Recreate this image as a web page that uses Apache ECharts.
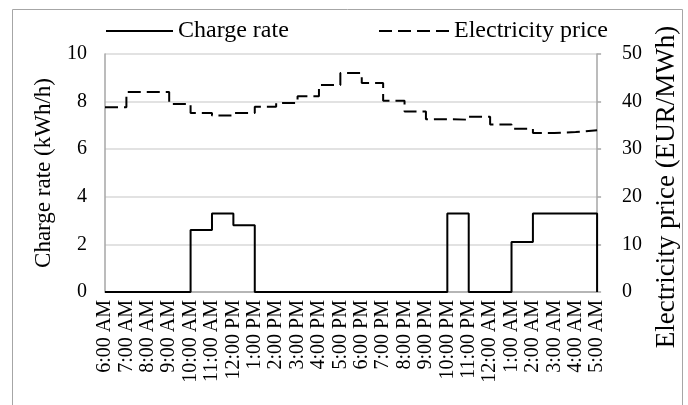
<!DOCTYPE html>
<html>
<head>
<meta charset="utf-8">
<script src="https://cdn.jsdelivr.net/npm/echarts@6/dist/echarts.min.js"></script>
<style>
html,body{margin:0;padding:0;background:#fff;}
#chart{width:688px;height:405px;}
</style>
</head>
<body>
<div id="chart"></div>
<script>
var hours = ['6:00 AM','7:00 AM','8:00 AM','9:00 AM','10:00 AM','11:00 AM','12:00 PM','1:00 PM','2:00 PM','3:00 PM','4:00 PM','5:00 PM','6:00 PM','7:00 PM','8:00 PM','9:00 PM','10:00 PM','11:00 PM','12:00 AM','1:00 AM','2:00 AM','3:00 AM','4:00 AM','5:00 AM'];
var chargeRate = [0,0,0,0,2.6,3.3,2.8,0,0,0,0,0,0,0,0,0,3.3,0,0,2.1,3.3,3.3,3.3,0];
var electricityPrice = [38.8,42.0,42.0,39.5,37.6,37.1,37.6,38.9,39.7,41.1,43.5,46.0,43.9,40.2,37.9,36.3,36.2,36.8,35.2,34.3,33.4,33.6,34.0,34.0];
var leftTicks = [0,10,2];
var rightTicks = [0,50,10];

var FONT = 'Liberation Serif';
var chart = echarts.init(document.getElementById('chart'), null, {renderer:'canvas'});
chart.setOption({
  animation:false,
  backgroundColor:'#fff',
  textStyle:{fontFamily:FONT,color:'#000'},
  graphic:[{type:'rect',shape:{x:12.5,y:9.5,width:670,height:420},style:{fill:'none',stroke:'#a6a6a6',lineWidth:1}}],
  legend:[{
    left:100, top:14, itemWidth:67, itemHeight:14,
    itemStyle:{opacity:0},
    textStyle:{fontFamily:FONT,fontSize:24,color:'#000'},
    data:['Charge rate']
  },{
    left:373, top:14, itemWidth:70, itemHeight:14,
    itemStyle:{opacity:0},
    textStyle:{fontFamily:FONT,fontSize:24,color:'#000'},
    data:['Electricity price']
  }],
  grid:{left:105,right:88,top:54,bottom:113,containLabel:false},
  xAxis:{
    type:'category', data:hours, boundaryGap:false,
    axisLine:{lineStyle:{color:'#a6a6a6',width:1.5}},
    axisTick:{show:false},
    axisLabel:{rotate:90,fontFamily:FONT,fontSize:20,color:'#000',margin:8,interval:0}
  },
  yAxis:[{
    type:'value', min:leftTicks[0], max:leftTicks[1], interval:leftTicks[2],
    name:'Charge rate (kWh/h)', nameLocation:'middle', nameRotate:90, nameGap:50,
    nameTextStyle:{fontFamily:FONT,fontSize:23,color:'#000'},
    axisLine:{show:true,lineStyle:{color:'#a6a6a6',width:1.5}},
    axisTick:{show:false},
    splitLine:{lineStyle:{color:'#d9d9d9',width:1.5}},
    axisLabel:{fontFamily:FONT,fontSize:20,color:'#000',margin:18}
  },{
    type:'value', min:rightTicks[0], max:rightTicks[1], interval:rightTicks[2], position:'right',
    name:'Electricity price (EUR/MWh)', nameLocation:'middle', nameRotate:90, nameGap:48,
    nameTextStyle:{fontFamily:FONT,fontSize:27,color:'#000',padding:[0,28,0,0]},
    axisLine:{show:true,lineStyle:{color:'#a6a6a6',width:1.5}},
    axisTick:{show:true,length:4,lineStyle:{color:'#a6a6a6',width:1.5}},
    splitLine:{show:false},
    axisLabel:{fontFamily:FONT,fontSize:20,color:'#000',margin:25}
  }],
  series:[{
    name:'Charge rate', type:'line', step:'end', data:chargeRate, yAxisIndex:0,
    symbol:'none', lineStyle:{color:'#000',width:2}, itemStyle:{color:'#000'}, z:3
  },{
    name:'Electricity price', type:'line', step:'end', data:electricityPrice, yAxisIndex:1,
    symbol:'none', lineStyle:{color:'#000',width:2,type:[13,6]}, itemStyle:{color:'#000'}, z:2
  }]
});
</script>
</body>
</html>
